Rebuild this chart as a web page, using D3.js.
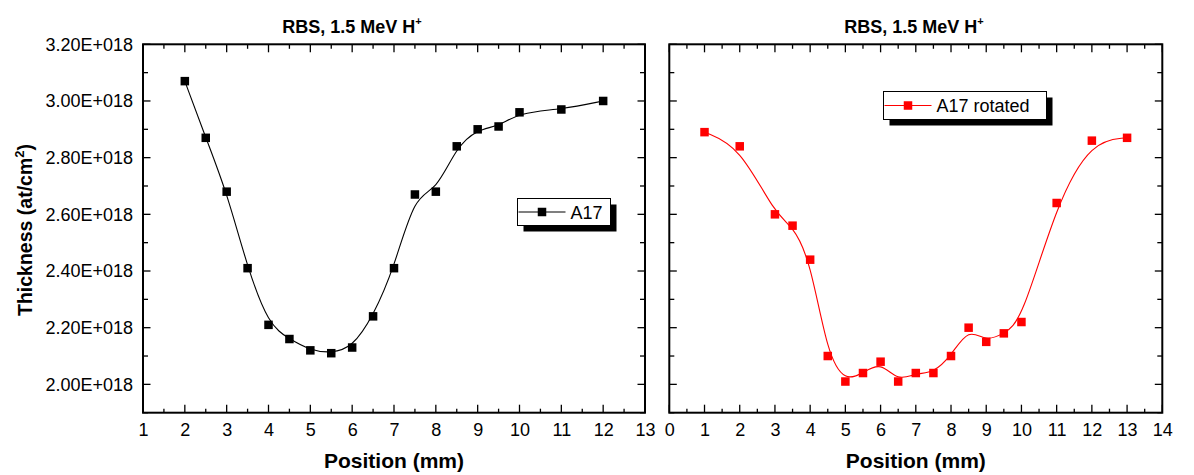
<!DOCTYPE html>
<html><head><meta charset="utf-8">
<script src="https://cdn.jsdelivr.net/npm/d3@7"></script>
<style>body{margin:0;background:#fff}svg{display:block}text{font-family:"Liberation Sans",Arial,sans-serif}</style>
</head><body>
<svg id="c" width="1194" height="475"></svg>
<script>
// ---- data ----
const posA17 = [2, 2.5, 3, 3.5, 4, 4.5, 5, 5.5, 6, 6.5, 7, 7.5, 8, 8.5, 9, 9.5, 10, 11, 12];
const thkA17 = [3.07, 2.87, 2.68, 2.41, 2.21, 2.16, 2.12, 2.11, 2.13, 2.24, 2.41, 2.67, 2.68, 2.84, 2.90, 2.91, 2.96, 2.97, 3.00]; // x1e18
const posRot = [1, 2, 3, 3.5, 4, 4.5, 5, 5.5, 6, 6.5, 7, 7.5, 8, 8.5, 9, 9.5, 10, 11, 12, 13];
const thkRot = [2.89, 2.84, 2.60, 2.56, 2.44, 2.10, 2.01, 2.04, 2.08, 2.01, 2.04, 2.04, 2.10, 2.20, 2.15, 2.18, 2.22, 2.64, 2.86, 2.87]; // x1e18
const yTickVals = [2.0, 2.2, 2.4, 2.6, 2.8, 3.0, 3.2];
const yTickLabels = ["2.00E+018", "2.20E+018", "2.40E+018", "2.60E+018", "2.80E+018", "3.00E+018", "3.20E+018"];
const xTicksLeft = [1,2,3,4,5,6,7,8,9,10,11,12,13];
const xTicksRight = [0,1,2,3,4,5,6,7,8,9,10,11,12,13,14];
const titleText = "RBS, 1.5 MeV H";
const xTitle = "Position (mm)";
const yTitle = "Thickness (at/cm";
const legendLeft = "A17";
const legendRight = "A17 rotated";

const svg = d3.select("#c");
const yTop = 44.3, yBottom = 412.7;
const yDomain = [1.9, 3.2];
const FONT = '"Liberation Sans",Arial,sans-serif';

function panel(opt){
  const g = svg.append("g");
  const x = d3.scaleLinear().domain(opt.xDomain).range([opt.x0, opt.x1]);
  const y = d3.scaleLinear().domain(yDomain).range([yBottom, yTop]);
  const xs = opt.xDomain;
  const majX = d3.range(xs[0], xs[1] + 0.001, 1);
  const minX = d3.range(xs[0] + 0.5, xs[1], 1);
  const majY = yTickVals;
  const minY = d3.range(1.9, 3.2, 0.2).map(v => +v.toFixed(2));
  const axB = d3.axisBottom(x).tickValues(opt.xTicks).tickSize(0).tickPadding(11).tickFormat(d3.format("d"));
  const gB = g.append("g").attr("transform", `translate(0,${yBottom})`).call(axB);
  gB.select(".domain").remove();
  gB.selectAll("text").attr("font-size", 18).attr("fill", "#000").attr("font-family", FONT);
  const tk = g.append("g").attr("stroke", "#000").attr("stroke-width", 1.3);
  majX.forEach(v => {
    tk.append("line").attr("x1", x(v)).attr("x2", x(v)).attr("y1", yBottom).attr("y2", yBottom - 8);
    tk.append("line").attr("x1", x(v)).attr("x2", x(v)).attr("y1", yTop).attr("y2", yTop + 8);
  });
  minX.forEach(v => {
    tk.append("line").attr("x1", x(v)).attr("x2", x(v)).attr("y1", yBottom).attr("y2", yBottom - 4);
    tk.append("line").attr("x1", x(v)).attr("x2", x(v)).attr("y1", yTop).attr("y2", yTop + 4.5);
  });
  majY.forEach(v => {
    tk.append("line").attr("x1", opt.x0).attr("x2", opt.x0 + 7.5).attr("y1", y(v)).attr("y2", y(v));
    tk.append("line").attr("x1", opt.x1).attr("x2", opt.x1 - 7.5).attr("y1", y(v)).attr("y2", y(v));
  });
  minY.forEach(v => {
    tk.append("line").attr("x1", opt.x0).attr("x2", opt.x0 + 5).attr("y1", y(v)).attr("y2", y(v));
    tk.append("line").attr("x1", opt.x1).attr("x2", opt.x1 - 5).attr("y1", y(v)).attr("y2", y(v));
  });
  if (opt.yLabels) {
    const axL = d3.axisLeft(y).tickValues(yTickVals).tickSize(0).tickPadding(10)
      .tickFormat((d, i) => yTickLabels[i]);
    const gL = g.append("g").attr("transform", `translate(${opt.x0},0)`).call(axL);
    gL.select(".domain").remove();
    gL.selectAll("text").attr("font-size", 18).attr("fill", "#000").attr("font-family", FONT);
  }
  g.append("rect").attr("x", opt.x0).attr("y", yTop).attr("width", opt.x1 - opt.x0).attr("height", yBottom - yTop)
    .attr("fill", "none").attr("stroke", "#000").attr("stroke-width", 2);
  const pts = opt.xs.map((v, i) => [v, opt.ys[i]]);
  const line = d3.line().x(d => x(d[0])).y(d => y(d[1])).curve(d3.curveBasis);
  g.append("path").datum(pts).attr("d", line).attr("fill", "none").attr("stroke", opt.color).attr("stroke-width", 1.1);
  const ms = 8.5;
  g.append("g").selectAll("rect").data(pts).join("rect")
    .attr("x", d => x(d[0]) - ms/2).attr("y", d => y(d[1]) - ms/2).attr("width", ms).attr("height", ms)
    .attr("fill", opt.color);
  const t = g.append("text").attr("x", opt.titleX).attr("y", 33).attr("text-anchor", "middle")
    .attr("font-size", 18).attr("font-weight", "bold").attr("fill", "#000");
  t.append("tspan").text(titleText);
  t.append("tspan").attr("dy", -8).attr("font-size", 11).text("+");
  g.append("text").attr("x", (opt.x0 + opt.x1) / 2).attr("y", 468).attr("text-anchor", "middle")
    .attr("font-size", 21).attr("font-weight", "bold").attr("fill", "#000").text(xTitle);
  const L = opt.legend;
  g.append("rect").attr("x", L.x + 6).attr("y", L.y + 6).attr("width", L.w).attr("height", L.h).attr("fill", "#000");
  g.append("rect").attr("x", L.x).attr("y", L.y).attr("width", L.w).attr("height", L.h).attr("fill", "#fff")
    .attr("stroke", "#000").attr("stroke-width", 1);
  const ly = L.y + L.h / 2;
  g.append("line").attr("x1", L.x + 1).attr("x2", L.x + 48).attr("y1", ly).attr("y2", ly).attr("stroke", opt.color).attr("stroke-width", 1.1);
  g.append("rect").attr("x", L.x + 24.5 - ms/2).attr("y", ly - ms/2).attr("width", ms).attr("height", ms).attr("fill", opt.color);
  g.append("text").attr("x", L.x + 53).attr("y", ly + 6.5).attr("font-size", 18).attr("fill", "#000").text(L.text);
}

panel({xDomain: [1, 13], x0: 143, x1: 645, xTicks: xTicksLeft, yLabels: true, xs: posA17, ys: thkA17, color: "#000",
  titleX: 352, legend: {x: 517.5, y: 198.5, w: 93, h: 27, text: legendLeft}});
panel({xDomain: [0, 14], x0: 669.3, x1: 1162.3, xTicks: xTicksRight, yLabels: false, xs: posRot, ys: thkRot, color: "#ff0000",
  titleX: 914, legend: {x: 883.5, y: 91.5, w: 163, h: 28, text: legendRight}});

const yt = svg.append("text").attr("transform", "translate(32,230) rotate(-90)").attr("text-anchor", "middle")
  .attr("font-size", 19.5).attr("font-weight", "bold").attr("fill", "#000");
yt.append("tspan").text(yTitle);
yt.append("tspan").attr("dy", -8).attr("font-size", 13).text("2");
yt.append("tspan").attr("dy", 8).text(")");
</script>
</body></html>
